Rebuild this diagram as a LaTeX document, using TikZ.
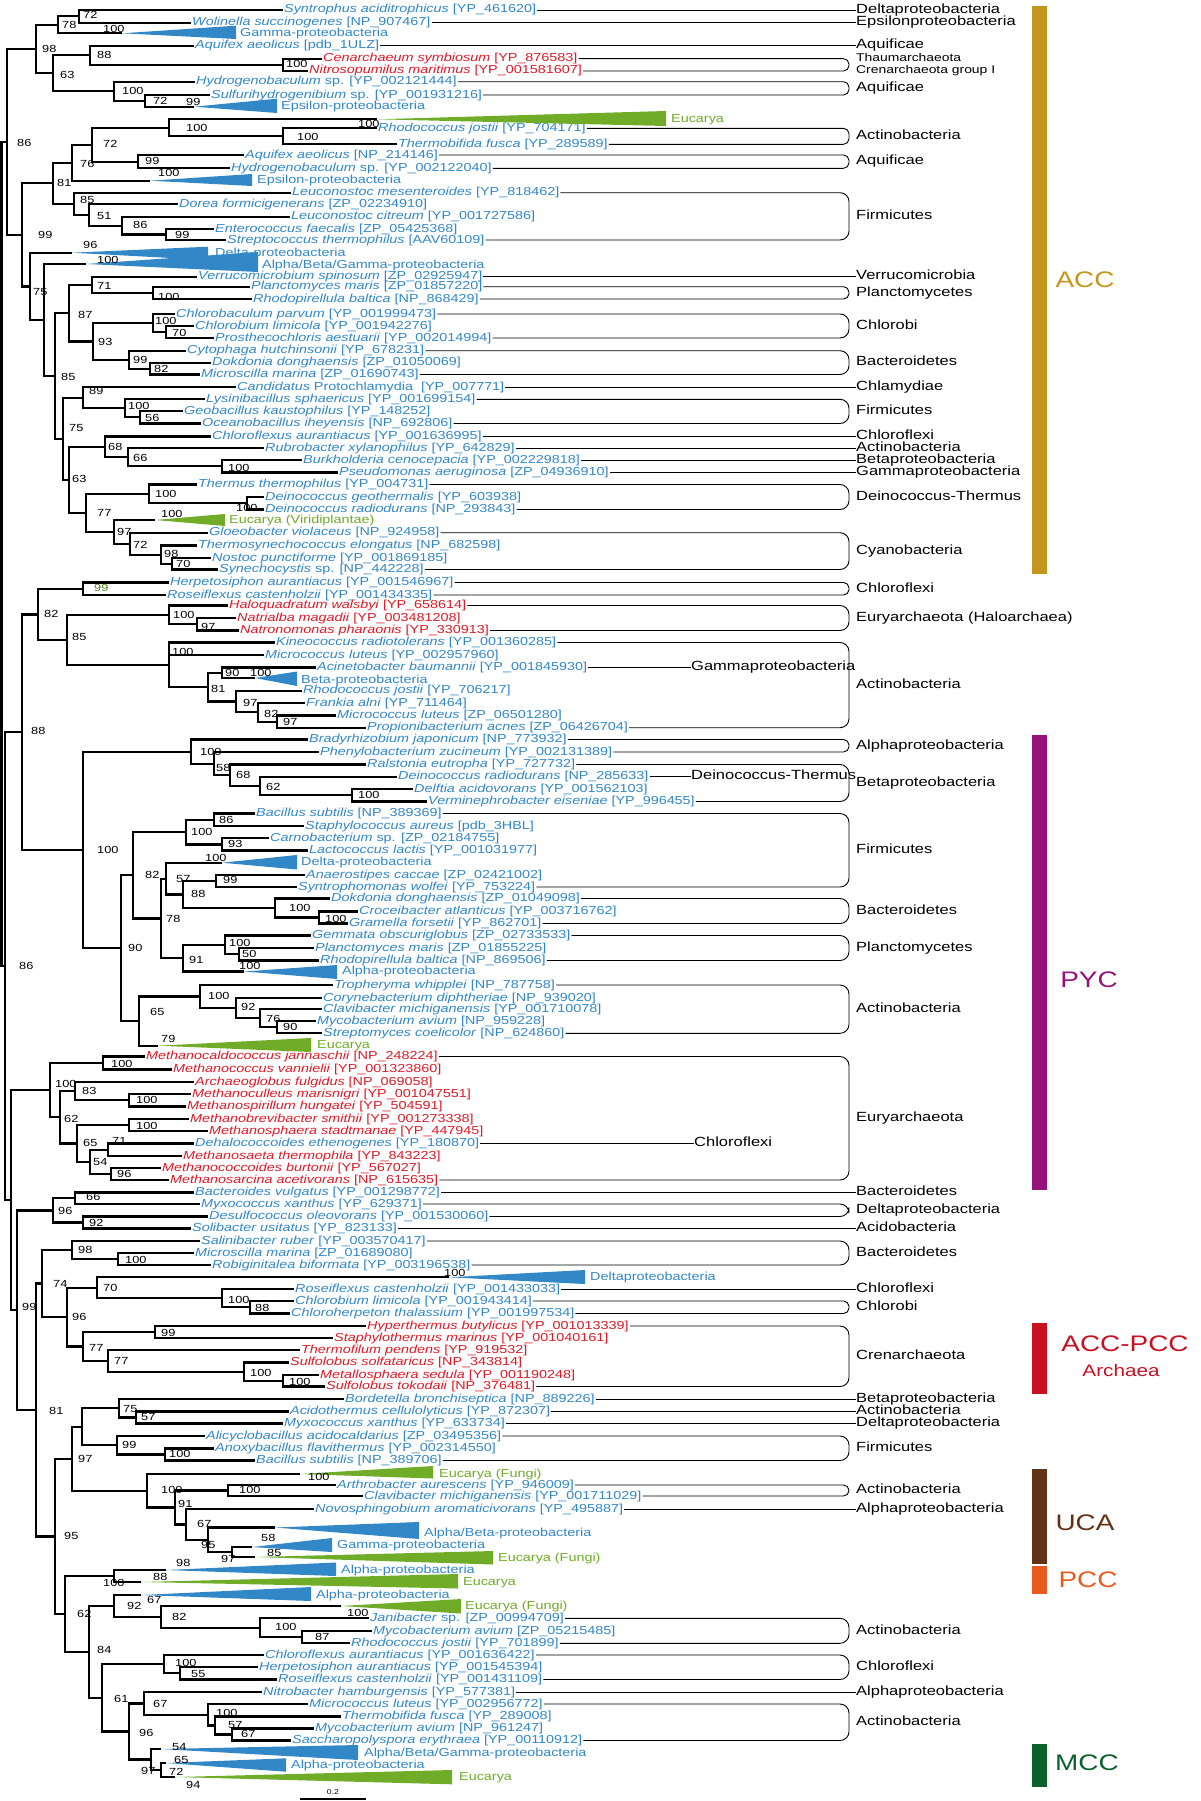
\documentclass[tikz,border=0pt]{standalone}
\usepackage{fontspec}
\setmainfont{Liberation Sans}[FakeStretch=1.24]
\usetikzlibrary{calc}
\definecolor{taxblue}{RGB}{50,135,198}
\definecolor{taxred}{RGB}{222,26,40}
\definecolor{taxgreen}{RGB}{112,172,40}
\definecolor{bootgreen}{RGB}{84,130,30}
\definecolor{accgold}{RGB}{196,150,28}
\definecolor{pycpurple}{RGB}{148,18,122}
\definecolor{acpred}{RGB}{200,16,32}
\definecolor{ucabrown}{RGB}{98,50,22}
\definecolor{pccorange}{RGB}{232,90,30}
\definecolor{mccgreen}{RGB}{12,96,42}

\tikzset{
  branch/.style={line width=2.2pt},
  taxon/.style={anchor=west, inner sep=1pt, text height=8.5pt, text depth=2.5pt, font=\fontsize{11.6}{12}\selectfont},
  bluetax/.style={taxon, text=taxblue},
  redtax/.style={taxon, text=taxred},
  greentax/.style={taxon, text=taxgreen},
  boot/.style={anchor=west, inner sep=0pt, text height=7.4pt, text depth=0pt, font=\fontsize{10.3}{10}\selectfont},
  group/.style={anchor=west, inner sep=0pt, text height=9pt, text depth=2.5pt, font=\fontsize{13.3}{14}\selectfont},
  guide/.style={line width=0.9pt},
  bigclass/.style={font=\fontsize{22.5}{23}\selectfont, inner sep=0pt},
}

\begin{document}
\begin{tikzpicture}[x=1pt,y=-1pt]
\useasboundingbox (0,0) rectangle (1200,1801);

% taxa, ACC part
\node[bluetax] (syn) at (283,10) {\textit{Syntrophus aciditrophicus} [YP\_461620]};
\node[bluetax] (wol) at (191,22.7) {\textit{Wolinella succinogenes} [NP\_907467]};
\node[bluetax] (aqa) at (194,45.7) {\textit{Aquifex aeolicus} [pdb\_1ULZ]};
\node[redtax] (cen) at (322,58.7) {\textit{Cenarchaeum symbiosum} [YP\_876583]};
\node[redtax] (nit) at (308,71) {\textit{Nitrosopumilus maritimus} [YP\_001581607]};
\node[bluetax] (hyd) at (195,81.7) {\textit{Hydrogenobaculum} sp. [YP\_002121444]};
\node[bluetax] (sul) at (210,95) {\textit{Sulfurihydrogenibium} sp. [YP\_001931216]};
\node[bluetax] (rjo) at (377,128.3) {\textit{Rhodococcus jostii} [YP\_704171]};
\node[bluetax] (tfu) at (397,144.3) {\textit{Thermobifida fusca} [YP\_289589]};
\node[bluetax] (aqb) at (244,155) {\textit{Aquifex aeolicus} [NP\_214146]};
\node[bluetax] (hyb) at (230,168.3) {\textit{Hydrogenobaculum} sp. [YP\_002122040]};
\node[bluetax] (lme) at (291,192.7) {\textit{Leuconostoc mesenteroides} [YP\_818462]};
\node[bluetax] (dfo) at (178,204) {\textit{Dorea formicigenerans} [ZP\_02234910]};
\node[bluetax] (lci) at (290,216.7) {\textit{Leuconostoc citreum} [YP\_001727586]};
\node[bluetax] (efa) at (214,229) {\textit{Enterococcus faecalis} [ZP\_05425368]};
\node[bluetax] (sth) at (226,240) {\textit{Streptococcus thermophilus} [AAV60109]};
\node[bluetax] (vsp) at (197,276.7) {\textit{Verrucomicrobium spinosum} [ZP\_02925947]};
\node[bluetax] (pma) at (250,286.7) {\textit{Planctomyces maris} [ZP\_01857220]};
\node[bluetax] (rba) at (252,299) {\textit{Rhodopirellula baltica} [NP\_868429]};
\node[bluetax] (cpa) at (175,314) {\textit{Chlorobaculum parvum} [YP\_001999473]};
\node[bluetax] (cli) at (194,326) {\textit{Chlorobium limicola} [YP\_001942276]};
\node[bluetax] (pae) at (214,338) {\textit{Prosthecochloris aestuarii} [YP\_002014994]};
\node[bluetax] (chu) at (186,350.7) {\textit{Cytophaga hutchinsonii} [YP\_678231]};
\node[bluetax] (ddo) at (211,362.7) {\textit{Dokdonia donghaensis} [ZP\_01050069]};
\node[bluetax] (mma) at (200,374.5) {\textit{Microscilla marina} [ZP\_01690743]};
\node[bluetax] (cpr) at (236,387.3) {\textit{Candidatus} Protochlamydia\ \ [YP\_007771]};
\node[bluetax] (lsp) at (205,399.3) {\textit{Lysinibacillus sphaericus} [YP\_001699154]};
\node[bluetax] (gka) at (183,411) {\textit{Geobacillus kaustophilus} [YP\_148252]};
\node[bluetax] (oih) at (201,423.5) {\textit{Oceanobacillus iheyensis} [NP\_692806]};
\node[bluetax] (cau) at (211,436.5) {\textit{Chloroflexus aurantiacus} [YP\_001636995]};
\node[bluetax] (rxy) at (264,448) {\textit{Rubrobacter xylanophilus} [YP\_642829]};
\node[bluetax] (bce) at (302,460) {\textit{Burkholderia cenocepacia} [YP\_002229818]};
\node[bluetax] (pau) at (338,472.5) {\textit{Pseudomonas aeruginosa} [ZP\_04936910]};
\node[bluetax] (tth) at (197,484.5) {\textit{Thermus thermophilus} [YP\_004731]};
\node[bluetax] (dge) at (264,497) {\textit{Deinococcus geothermalis} [YP\_603938]};
\node[bluetax] (dra) at (264,509.5) {\textit{Deinococcus radiodurans} [NP\_293843]};
\node[bluetax] (gvi) at (208,532.7) {\textit{Gloeobacter violaceus} [NP\_924958]};
\node[bluetax] (tel) at (197,545.5) {\textit{Thermosynechococcus elongatus} [NP\_682598]};
\node[bluetax] (npu) at (211,558) {\textit{Nostoc punctiforme} [YP\_001869185]};
\node[bluetax] (ssp) at (218,569.5) {\textit{Synechocystis} sp. [NP\_442228]};

% taxa, PYC part
\node[bluetax] (hau) at (169,582.5) {\textit{Herpetosiphon aurantiacus} [YP\_001546967]};
\node[bluetax] (rca) at (166,595) {\textit{Roseiflexus castenholzii} [YP\_001434335]};
\node[redtax] (hwa) at (228,605.5) {\textit{Haloquadratum walsbyi} [YP\_658614]};
\node[redtax] (nma) at (236,618) {\textit{Natrialba magadii} [YP\_003481208]};
\node[redtax] (nph) at (239,630.5) {\textit{Natronomonas pharaonis} [YP\_330913]};
\node[bluetax] (kra) at (275,642.5) {\textit{Kineococcus radiotolerans} [YP\_001360285]};
\node[bluetax] (mlu) at (264,655) {\textit{Micrococcus luteus} [YP\_002957960]};
\node[bluetax] (aba) at (316,667.5) {\textit{Acinetobacter baumannii} [YP\_001845930]};
\node[bluetax] (rjb) at (302,690.7) {\textit{Rhodococcus jostii} [YP\_706217]};
\node[bluetax] (fal) at (305,703) {\textit{Frankia alni} [YP\_711464]};
\node[bluetax] (mlb) at (336,715.5) {\textit{Micrococcus luteus} [ZP\_06501280]};
\node[bluetax] (pac) at (366,727.7) {\textit{Propionibacterium acnes} [ZP\_06426704]};
\node[bluetax] (bja) at (308,739.5) {\textit{Bradyrhizobium japonicum} [NP\_773932]};
\node[bluetax] (pzu) at (319,752) {\textit{Phenylobacterium zucineum} [YP\_002131389]};
\node[bluetax] (reu) at (366,764.5) {\textit{Ralstonia eutropha} [YP\_727732]};
\node[bluetax] (drb) at (397,776.7) {\textit{Deinococcus radiodurans} [NP\_285633]};
\node[bluetax] (dac) at (413,789) {\textit{Delftia acidovorans} [YP\_001562103]};
\node[bluetax] (vei) at (427,801.5) {\textit{Verminephrobacter eiseniae} [YP\_996455]};
\node[bluetax] (bsu) at (255,813.5) {\textit{Bacillus subtilis} [NP\_389369]};
\node[bluetax] (sau) at (304,826) {\textit{Staphylococcus aureus} [pdb\_3HBL]};
\node[bluetax] (csp) at (269,838.3) {\textit{Carnobacterium} sp. [ZP\_02184755]};
\node[bluetax] (lla) at (308,850.5) {\textit{Lactococcus lactis} [YP\_001031977]};
\node[bluetax] (aca) at (305,875) {\textit{Anaerostipes caccae} [ZP\_02421002]};
\node[bluetax] (swo) at (297,887) {\textit{Syntrophomonas wolfei} [YP\_753224]};
\node[bluetax] (ddb) at (330,898.5) {\textit{Dokdonia donghaensis} [ZP\_01049098]};
\node[bluetax] (cat) at (358,911.5) {\textit{Croceibacter atlanticus} [YP\_003716762]};
\node[bluetax] (gfo) at (348,923.5) {\textit{Gramella forsetii} [YP\_862701]};
\node[bluetax] (gob) at (311,935.5) {\textit{Gemmata obscuriglobus} [ZP\_02733533]};
\node[bluetax] (pmb) at (314,948) {\textit{Planctomyces maris} [ZP\_01855225]};
\node[bluetax] (rbb) at (319,960.5) {\textit{Rhodopirellula baltica} [NP\_869506]};
\node[bluetax] (twh) at (333,985) {\textit{Tropheryma whipplei} [NP\_787758]};
\node[bluetax] (cdi) at (322,998) {\textit{Corynebacterium diphtheriae} [NP\_939020]};
\node[bluetax] (cmi) at (322,1009) {\textit{Clavibacter michiganensis} [YP\_001710078]};
\node[bluetax] (mav) at (316,1021) {\textit{Mycobacterium avium} [NP\_959228]};
\node[bluetax] (sco) at (322,1033.3) {\textit{Streptomyces coelicolor} [NP\_624860]};
\node[redtax] (mja) at (145,1056.5) {\textit{Methanocaldococcus jannaschii} [NP\_248224]};
\node[redtax] (mva) at (172,1069.5) {\textit{Methanococcus vannielii} [YP\_001323860]};
\node[redtax] (afu) at (194,1082) {\textit{Archaeoglobus fulgidus} [NP\_069058]};
\node[redtax] (mmr) at (191,1094) {\textit{Methanoculleus marisnigri} [YP\_001047551]};
\node[redtax] (mhu) at (186,1106.5) {\textit{Methanospirillum hungatei} [YP\_504591]};
\node[redtax] (msm) at (189,1119) {\textit{Methanobrevibacter smithii} [YP\_001273338]};
\node[redtax] (mst) at (208,1131) {\textit{Methanosphaera stadtmanae} [YP\_447945]};
\node[bluetax] (det) at (194,1143.5) {\textit{Dehalococcoides ethenogenes} [YP\_180870]};
\node[redtax] (mth) at (182,1156) {\textit{Methanosaeta thermophila} [YP\_843223]};
\node[redtax] (mbu) at (161,1168) {\textit{Methanococcoides burtonii} [YP\_567027]};
\node[redtax] (mac) at (169,1180) {\textit{Methanosarcina acetivorans} [NP\_615635]};

% taxa, lower part
\node[bluetax] (bvu) at (194,1192.5) {\textit{Bacteroides vulgatus} [YP\_001298772]};
\node[bluetax] (mxa) at (200,1204) {\textit{Myxococcus xanthus} [YP\_629371]};
\node[bluetax] (dol) at (208,1216.5) {\textit{Desulfococcus oleovorans} [YP\_001530060]};
\node[bluetax] (sus) at (191,1228.5) {\textit{Solibacter usitatus} [YP\_823133]};
\node[bluetax] (sru) at (200,1241) {\textit{Salinibacter ruber} [YP\_003570417]};
\node[bluetax] (mmb) at (194,1253) {\textit{Microscilla marina} [ZP\_01689080]};
\node[bluetax] (rbi) at (211,1265) {\textit{Robiginitalea biformata} [YP\_003196538]};
\node[bluetax] (rcb) at (294,1289) {\textit{Roseiflexus castenholzii} [YP\_001433033]};
\node[bluetax] (clb) at (294,1301) {\textit{Chlorobium limicola} [YP\_001943414]};
\node[bluetax] (cth) at (290,1313.5) {\textit{Chloroherpeton thalassium} [YP\_001997534]};
\node[redtax] (hbu) at (366,1326) {\textit{Hyperthermus butylicus} [YP\_001013339]};
\node[redtax] (sma) at (333,1338) {\textit{Staphylothermus marinus} [YP\_001040161]};
\node[redtax] (tpe) at (300,1350) {\textit{Thermofilum pendens} [YP\_919532]};
\node[redtax] (sso) at (289,1362.5) {\textit{Sulfolobus solfataricus} [NP\_343814]};
\node[redtax] (mse) at (319,1375) {\textit{Metallosphaera sedula} [YP\_001190248]};
\node[redtax] (sto) at (325,1386.5) {\textit{Sulfolobus tokodaii} [NP\_376481]};
\node[bluetax] (bbr) at (344,1399) {\textit{Bordetella bronchiseptica} [NP\_889226]};
\node[bluetax] (ace) at (289,1411.5) {\textit{Acidothermus cellulolyticus} [YP\_872307]};
\node[bluetax] (mxb) at (283,1423.5) {\textit{Myxococcus xanthus} [YP\_633734]};
\node[bluetax] (aac) at (205,1436) {\textit{Alicyclobacillus acidocaldarius} [ZP\_03495356]};
\node[bluetax] (afl) at (214,1448.5) {\textit{Anoxybacillus flavithermus} [YP\_002314550]};
\node[bluetax] (bsb) at (255,1460.5) {\textit{Bacillus subtilis} [NP\_389706]};
\node[bluetax] (aau) at (336,1485) {\textit{Arthrobacter aurescens} [YP\_946009]};
\node[bluetax] (cmb) at (363,1496) {\textit{Clavibacter michiganensis} [YP\_001711029]};
\node[bluetax] (nar) at (314,1509) {\textit{Novosphingobium aromaticivorans} [YP\_495887]};
\node[bluetax] (jan) at (369,1618.3) {\textit{Janibacter} sp. [ZP\_00994709]};
\node[bluetax] (mvb) at (372,1631) {\textit{Mycobacterium avium} [ZP\_05215485]};
\node[bluetax] (rjc) at (350,1643.3) {\textit{Rhodococcus jostii} [YP\_701899]};
\node[bluetax] (cab) at (264,1655) {\textit{Chloroflexus aurantiacus} [YP\_001636422]};
\node[bluetax] (hab) at (258,1667) {\textit{Herpetosiphon aurantiacus} [YP\_001545394]};
\node[bluetax] (rcc) at (277,1679.5) {\textit{Roseiflexus castenholzii} [YP\_001431109]};
\node[bluetax] (nha) at (262,1692) {\textit{Nitrobacter hamburgensis} [YP\_577381]};
\node[bluetax] (mlc) at (308,1704) {\textit{Micrococcus luteus} [YP\_002956772]};
\node[bluetax] (tfb) at (341,1716.5) {\textit{Thermobifida fusca} [YP\_289008]};
\node[bluetax] (mvc) at (314,1728.5) {\textit{Mycobacterium avium} [NP\_961247]};
\node[bluetax] (ser) at (291,1740.5) {\textit{Saccharopolyspora erythraea} [YP\_00110912]};

% collapsed clades
\coordinate (gamA) at (122,33.3);
\fill[taxblue] (gamA) -- (236,25.7) -- (236,39) -- cycle;
\node[bluetax] (gamT) at (239,33.3) {Gamma-proteobacteria};
\coordinate (epsA) at (194,106.7);
\fill[taxblue] (epsA) -- (277,98.7) -- (277,113) -- cycle;
\node[bluetax] (epsT) at (280,106.7) {Epsilon-proteobacteria};
\coordinate (eucA) at (377,119.3);
\fill[taxgreen] (eucA) -- (666,111) -- (666,126) -- cycle;
\node[greentax] (eucT) at (670,119.3) {Eucarya};
\coordinate (epbA) at (150,180.7);
\fill[taxblue] (epbA) -- (252,174) -- (252,186) -- cycle;
\node[bluetax] (epbT) at (256,180.7) {Epsilon-proteobacteria};
\coordinate (abgA) at (86,264);
\fill[taxblue] (abgA) -- (258,252) -- (258,272) -- cycle;
\node[bluetax] (abgT) at (261,265.5) {Alpha/Beta/Gamma-proteobacteria};
\coordinate (delA) at (72,252.7);
\fill[taxblue] (delA) -- (208,246.7) -- (208,260) -- cycle;
\node[bluetax] (delT) at (214,253.3) {Delta-proteobacteria};
\coordinate (virA) at (155,520);
\fill[taxgreen] (virA) -- (225,514) -- (225,526) -- cycle;
\node[greentax] (virT) at (228,520) {Eucarya (Viridiplantae)};
\coordinate (betA) at (255,678);
\fill[taxblue] (betA) -- (297,671.5) -- (297,686) -- cycle;
\node[bluetax] (betT) at (300,680) {Beta-proteobacteria};
\coordinate (dlbA) at (222,862.7);
\fill[taxblue] (dlbA) -- (297,855) -- (297,869.5) -- cycle;
\node[bluetax] (dlbT) at (300,862.7) {Delta-proteobacteria};
\coordinate (alaA) at (244,971.5);
\fill[taxblue] (alaA) -- (337,965) -- (337,979) -- cycle;
\node[bluetax] (alaT) at (341,971.7) {Alpha-proteobacteria};
\coordinate (eubA) at (158,1045.7);
\fill[taxgreen] (eubA) -- (311,1038) -- (311,1052) -- cycle;
\node[greentax] (eubT) at (316,1045.7) {Eucarya};
\coordinate (dlcA) at (449,1277.3);
\fill[taxblue] (dlcA) -- (585,1270) -- (585,1284) -- cycle;
\node[bluetax] (dlcT) at (589,1277.3) {Deltaproteobacteria};
\coordinate (fuaA) at (300,1474);
\fill[taxgreen] (fuaA) -- (433,1466) -- (433,1478.5) -- cycle;
\node[greentax] (fuaT) at (438,1474) {Eucarya (Fungi)};
\coordinate (abaA) at (275,1527.5);
\fill[taxblue] (abaA) -- (419,1522) -- (419,1539) -- cycle;
\node[bluetax] (abaT) at (423,1533.3) {Alpha/Beta-proteobacteria};
\coordinate (gmbA) at (252,1547);
\fill[taxblue] (gmbA) -- (332,1538) -- (332,1552) -- cycle;
\node[bluetax] (gmbT) at (336,1545.7) {Gamma-proteobacteria};
\coordinate (fubA) at (255,1557);
\fill[taxgreen] (fubA) -- (493,1551) -- (493,1564.5) -- cycle;
\node[greentax] (fubT) at (497,1558.3) {Eucarya (Fungi)};
\coordinate (albA) at (166,1570);
\fill[taxblue] (albA) -- (336,1562.5) -- (336,1576) -- cycle;
\node[bluetax] (albT) at (340,1570) {Alpha-proteobacteria};
\coordinate (eccA) at (141,1582);
\fill[taxgreen] (eccA) -- (458,1574) -- (458,1588.5) -- cycle;
\node[greentax] (eccT) at (462,1582.3) {Eucarya};
\coordinate (alcA) at (141,1595);
\fill[taxblue] (alcA) -- (311,1587) -- (311,1601) -- cycle;
\node[bluetax] (alcT) at (315,1595) {Alpha-proteobacteria};
\coordinate (fucA) at (341,1606);
\fill[taxgreen] (fucA) -- (461,1599) -- (461,1613.5) -- cycle;
\node[greentax] (fucT) at (464,1606.7) {Eucarya (Fungi)};
\coordinate (abcA) at (161,1749);
\fill[taxblue] (abcA) -- (358,1745) -- (358,1760) -- cycle;
\node[bluetax] (abcT) at (363,1753.3) {Alpha/Beta/Gamma-proteobacteria};
\coordinate (aldA) at (166,1763);
\fill[taxblue] (aldA) -- (286,1758.3) -- (286,1771.7) -- cycle;
\node[bluetax] (aldT) at (290,1765) {Alpha-proteobacteria};
\coordinate (eddA) at (175,1777);
\fill[taxgreen] (eddA) -- (452,1770) -- (452,1784.3) -- cycle;
\node[greentax] (eddT) at (458,1777.7) {Eucarya};

% internal nodes
\coordinate (n72a) at (79,16.4);
\coordinate (n78) at (58,24.9);
\coordinate (n100c) at (283,64.9);
\coordinate (n88a) at (90,55.3);
\coordinate (n72b) at (145,100.9);
\coordinate (n100h) at (114,91.3);
\coordinate (n63a) at (53,73.3);
\coordinate (n98) at (36,49.1);
\coordinate (n100r) at (283,136.3);
\coordinate (n100e) at (169,127.8);
\coordinate (n99a) at (138,161.7);
\coordinate (n72c) at (92,144.7);
\coordinate (n76) at (72,162.7);
\coordinate (n99b) at (166,234.5);
\coordinate (n86b) at (122,225.6);
\coordinate (n51) at (89,214.8);
\coordinate (n85a) at (74,203.7);
\coordinate (n81a) at (53,183.2);
\coordinate (n100p) at (153,292.8);
\coordinate (n71) at (92,284.8);
\coordinate (n70) at (166,332);
\coordinate (n100cb) at (153,323);
\coordinate (n82a) at (150,368.6);
\coordinate (n99c) at (129,359.7);
\coordinate (n93) at (93,341.4);
\coordinate (n87) at (69,313.1);
\coordinate (n56) at (140,417.3);
\coordinate (n100l) at (125,408.3);
\coordinate (n89) at (83,397.8);
\coordinate (n100b) at (222,466.3);
\coordinate (n66) at (128,457.1);
\coordinate (n68) at (105,446.8);
\coordinate (n100d) at (247,503.3);
\coordinate (n100t) at (149,493.9);
\coordinate (n70n) at (172,563.8);
\coordinate (n98t) at (161,554.6);
\coordinate (n72g) at (130,543.7);
\coordinate (n97) at (114,531.8);
\coordinate (n77) at (86,512.9);
\coordinate (n63b) at (69,479.9);
\coordinate (n75b) at (63,438.8);
\coordinate (n85b) at (55,376);
\coordinate (nY) at (44,320);
\coordinate (n75a) at (30,286.4);
\coordinate (n99) at (22,234.8);
\coordinate (n86t) at (7,142);

\coordinate (n99h) at (83,588.8);
\coordinate (n97n) at (197,624.3);
\coordinate (n100hq) at (169,614.9);
\coordinate (n90) at (222,672.8);
\coordinate (n97m) at (277,721.6);
\coordinate (n82f) at (258,712.3);
\coordinate (n97r) at (236,701.5);
\coordinate (n81r) at (208,687.2);
\coordinate (n100k) at (169,664.9);
\coordinate (n85h) at (67,639.9);
\coordinate (n82) at (38,614.4);
\coordinate (n100dv) at (352,795.3);
\coordinate (n62) at (260,786);
\coordinate (n68r) at (230,775.3);
\coordinate (n58) at (214,763.6);
\coordinate (n100br) at (191,751.6);
\coordinate (n86f) at (214,819.8);
\coordinate (n93c) at (222,844.4);
\coordinate (n100f) at (186,832.1);
\coordinate (n99an) at (216,881);
\coordinate (n100cg) at (319,917.5);
\coordinate (n100do) at (275,908);
\coordinate (n88b) at (183,894.5);
\coordinate (n57) at (166,878.6);
\coordinate (n50) at (239,954.3);
\coordinate (n100g) at (225,944.9);
\coordinate (n91) at (183,958.2);
\coordinate (n78b) at (161,918.4);
\coordinate (n82b) at (133,875.3);
\coordinate (n90m) at (277,1027.2);
\coordinate (n76c) at (260,1018.1);
\coordinate (n92) at (236,1008);
\coordinate (n100tw) at (200,996.5);
\coordinate (n65) at (139,1021.1);
\coordinate (n90f) at (121,948.2);
\coordinate (n100big) at (83,849.9);
\coordinate (n88) at (22,732.2);

\coordinate (n100mj) at (103,1063);
\coordinate (n100mm) at (129,1100.3);
\coordinate (n83) at (75,1091.1);
\coordinate (n100mb) at (129,1125);
\coordinate (n71d) at (108,1149.8);
\coordinate (n96m) at (111,1174);
\coordinate (n54) at (90,1161.9);
\coordinate (n65m) at (77,1143.5);
\coordinate (n62m) at (60,1117.3);
\coordinate (n100e2) at (50,1090.2);

\coordinate (n66b) at (75,1198.3);
\coordinate (n92d) at (83,1222.5);
\coordinate (n96d) at (53,1210.4);
\coordinate (n100ms) at (118,1259);
\coordinate (n98s) at (72,1250);
\coordinate (n88c) at (250,1307.3);
\coordinate (n100rc) at (222,1298.1);
\coordinate (n70r) at (97,1287.7);
\coordinate (n99hb) at (155,1332);
\coordinate (n100sd) at (283,1380.8);
\coordinate (n100ss) at (244,1371.6);
\coordinate (n77c) at (108,1360.8);
\coordinate (n77cr) at (83,1346.4);
\coordinate (n96c) at (67,1317);
\coordinate (n74) at (42,1283.5);
\coordinate (n57a) at (136,1417.5);
\coordinate (n75bo) at (119,1408.3);
\coordinate (n100an) at (165,1454.5);
\coordinate (n99al) at (117,1445.3);
\coordinate (nU) at (82,1426.8);
\coordinate (n100ar) at (228,1490.5);
\coordinate (n97g) at (232,1552);
\coordinate (n95g) at (208,1539.8);
\coordinate (n67) at (186,1524.4);
\coordinate (n91c) at (175,1507.5);
\coordinate (n100eu) at (147,1490.7);
\coordinate (n97b) at (72,1458.8);
\coordinate (n100pa) at (114,1576);
\coordinate (n87j) at (302,1637.2);
\coordinate (n100j) at (260,1627.7);
\coordinate (n82j) at (161,1616.9);
\coordinate (n92a) at (114,1606);
\coordinate (n55) at (180,1673.3);
\coordinate (n100cf) at (164,1664.1);
\coordinate (n67m) at (232,1734.5);
\coordinate (n57m) at (215,1725.5);
\coordinate (n100mc) at (208,1714.8);
\coordinate (n67n) at (144,1703.4);
\coordinate (n72e) at (161,1770);
\coordinate (n97e) at (151,1759.5);
\coordinate (n96e) at (129,1731.5);
\coordinate (n61) at (102,1697.8);
\coordinate (n84) at (89,1651.9);
\coordinate (n62b) at (65,1614);
\coordinate (n95b) at (55,1536.4);
\coordinate (n81) at (36,1410);
\coordinate (n99y) at (17,1310.2);
\coordinate (nPE) at (11,1200.2);
\coordinate (n86m) at (5,966.2);
\coordinate (nroot) at (1.5,554);

% branches
\foreach \p/\c in {n72a/syn.west, n72a/wol.west, n78/n72a, n78/gamA, n100c/cen.west, n100c/nit.west,
  n88a/aqa.west, n88a/n100c, n72b/sul.west, n72b/epsA, n100h/hyd.west, n100h/n72b, n63a/n88a, n63a/n100h,
  n98/n78, n98/n63a, n100r/rjo.west, n100r/tfu.west, n100e/eucA, n100e/n100r, n99a/aqb.west, n99a/hyb.west,
  n72c/n100e, n72c/n99a, n76/n72c, n76/epbA, n99b/efa.west, n99b/sth.west, n86b/lci.west, n86b/n99b,
  n51/dfo.west, n51/n86b, n85a/lme.west, n85a/n51, n81a/n76, n81a/n85a, n100p/pma.west, n100p/rba.west,
  n71/vsp.west, n71/n100p, n70/cli.west, n70/pae.west, n100cb/cpa.west, n100cb/n70, n82a/ddo.west, n82a/mma.west,
  n99c/chu.west, n99c/n82a, n93/n100cb, n93/n99c, n87/n71, n87/n93, n56/gka.west, n56/oih.west,
  n100l/lsp.west, n100l/n56, n89/cpr.west, n89/n100l, n100b/bce.west, n100b/pau.west, n66/rxy.west, n66/n100b,
  n68/cau.west, n68/n66, n100d/dge.west, n100d/dra.west, n100t/tth.west, n100t/n100d, n70n/npu.west, n70n/ssp.west,
  n98t/tel.west, n98t/n70n, n72g/gvi.west, n72g/n98t, n97/virA, n97/n72g, n77/n100t, n77/n97,
  n63b/n68, n63b/n77, n75b/n89, n75b/n63b, n85b/n87, n85b/n75b, nY/abgA, nY/n85b, n75a/delA, n75a/nY,
  n99/n81a, n99/n75a, n86t/n98, n86t/n99}
  \draw[branch] (\p) |- (\c);

\foreach \p/\c in {n99h/hau.west, n99h/rca.west, n97n/nma.west, n97n/nph.west, n100hq/hwa.west, n100hq/n97n,
  n90/aba.west, n90/betA, n97m/mlb.west, n97m/pac.west, n82f/fal.west, n82f/n97m, n97r/rjb.west, n97r/n82f,
  n81r/n90, n81r/n97r, n100k/kra.west, n100k/mlu.west, n100k/n81r, n85h/n100hq, n85h/n100k, n82/n99h, n82/n85h,
  n100dv/dac.west, n100dv/vei.west, n62/drb.west, n62/n100dv, n68r/reu.west, n68r/n62, n58/pzu.west, n58/n68r,
  n100br/bja.west, n100br/n58, n86f/bsu.west, n86f/sau.west, n93c/csp.west, n93c/lla.west, n100f/n86f, n100f/n93c,
  n99an/aca.west, n99an/swo.west, n100cg/cat.west, n100cg/gfo.west, n100do/ddb.west, n100do/n100cg,
  n88b/n99an, n88b/n100do, n57/dlbA, n57/n88b, n50/pmb.west, n50/rbb.west, n100g/gob.west, n100g/n50,
  n91/n100g, n91/alaA, n78b/n57, n78b/n91, n82b/n100f, n82b/n78b, n90m/mav.west, n90m/sco.west,
  n76c/cmi.west, n76c/n90m, n92/cdi.west, n92/n76c, n100tw/twh.west, n100tw/n92, n65/n100tw, n65/eubA,
  n90f/n82b, n90f/n65, n100big/n100br, n100big/n90f, n88/n82, n88/n100big}
  \draw[branch] (\p) |- (\c);

\foreach \p/\c in {n100mj/mja.west, n100mj/mva.west, n100mm/mmr.west, n100mm/mhu.west, n83/afu.west, n83/n100mm,
  n100mb/msm.west, n100mb/mst.west, n71d/det.west, n71d/mth.west, n96m/mbu.west, n96m/mac.west,
  n54/n71d, n54/n96m, n65m/n100mb, n65m/n54, n62m/n83, n62m/n65m, n100e2/n100mj, n100e2/n62m}
  \draw[branch] (\p) |- (\c);

\foreach \p/\c in {n66b/bvu.west, n66b/mxa.west, n92d/dol.west, n92d/sus.west, n96d/n66b, n96d/n92d,
  n100ms/mmb.west, n100ms/rbi.west, n98s/sru.west, n98s/n100ms, n88c/clb.west, n88c/cth.west,
  n100rc/rcb.west, n100rc/n88c, n70r/dlcA, n70r/n100rc, n99hb/hbu.west, n99hb/sma.west,
  n100sd/mse.west, n100sd/sto.west, n100ss/sso.west, n100ss/n100sd, n77c/tpe.west, n77c/n100ss,
  n77cr/n99hb, n77cr/n77c, n96c/n70r, n96c/n77cr, n74/n98s, n74/n96c, n57a/ace.west, n57a/mxb.west,
  n75bo/bbr.west, n75bo/n57a, n100an/afl.west, n100an/bsb.west, n99al/aac.west, n99al/n100an,
  nU/n75bo, nU/n99al, n100ar/aau.west, n100ar/cmb.west, n97g/gmbA, n97g/fubA, n95g/abaA, n95g/n97g,
  n67/nar.west, n67/n95g, n91c/n100ar, n91c/n67, n100eu/fuaA, n100eu/n91c, n97b/nU, n97b/n100eu,
  n100pa/albA, n100pa/eccA, n87j/mvb.west, n87j/rjc.west, n100j/jan.west, n100j/n87j, n82j/fucA, n82j/n100j,
  n92a/alcA, n92a/n82j, n55/hab.west, n55/rcc.west, n100cf/cab.west, n100cf/n55, n67m/mvc.west, n67m/ser.west,
  n57m/tfb.west, n57m/n67m, n100mc/mlc.west, n100mc/n57m, n67n/nha.west, n67n/n100mc, n72e/aldA, n72e/eddA,
  n97e/abcA, n97e/n72e, n96e/n67n, n96e/n97e, n61/n100cf, n61/n96e, n84/n92a, n84/n61, n62b/n100pa, n62b/n84,
  n95b/n97b, n95b/n62b, n81/n74, n81/n95b, n99y/n96d, n99y/n81, nPE/n100e2, nPE/n99y,
  n86m/n88, n86m/nPE, nroot/n86t, nroot/n86m}
  \draw[branch] (\p) |- (\c);

% support values
\foreach \xx/\yy/\v [count=\i] in {83/15/72, 62/25/78, 103/29/100, 286/64/100, 97/55/88, 153/101/72, 186/101.7/99,
  122/91/100, 60/74.5/63, 42/49/98, 297/137/100, 186/128/100, 358/124/100, 145/161/99, 103/144/72, 80/164/76,
  158/172.7/100, 175/235/99, 133/225/86, 97/215.7/51, 80/199.3/85, 57/183/81, 158/296.7/100, 97/286/71,
  172/332.7/70, 155/320.7/100, 154/369/82, 133/359.3/99, 98/341.7/93, 78/315/87, 145/417.3/56, 128/406/100,
  89/390.7/89, 228/467.3/100, 133/457.3/66, 108/447/68, 236/508/100, 155/493.3/100, 176/564/70, 164/553.3/98,
  133/544.3/72, 117/531.7/97, 161/514/100, 97/513/77, 72/479/63, 69/428/75, 61/376.7/85, 97/260/100,
  33/292/75, 83/245/96, 38/235/99, 17/142.7/86}
  \node[boot] (bsa\i) at (\xx,\yy) {\v};
\node[boot, text=bootgreen] (bgr) at (94,587.7) {99};
\foreach \xx/\yy/\v [count=\i] in {201/626.7/97, 173/615/100, 225/673/90, 250/673/100, 283/721.7/97,
  264/713.3/82, 243/702.7/97, 211/688.3/81, 172/651.7/100, 72/636.7/85, 44/613.3/82, 358/795/100,
  266/786.7/62, 236/775/68, 216/767.3/58, 200/751.7/100, 219/820/86, 228/844/93, 191/831.7/100,
  223/880/99, 325/918.3/100, 289/907.3/100, 191/894/88, 176/878.3/57, 205/857.3/100, 242/954/50,
  229/942.7/100, 189/959.3/91, 239/965.7/100, 166/919/78, 145/875/82, 283/1026.7/90, 266/1018.3/76,
  241/1006.7/92, 208/996/100, 150/1011.7/65, 161/1038.3/79, 128/947.7/90, 97/850/100, 31/730.7/88}
  \node[boot] (bsb\i) at (\xx,\yy) {\v};
\foreach \xx/\yy/\v [count=\i] in {111/1063.3/100, 136/1100/100, 82/1091/83, 136/1126/100, 112/1141/71,
  117/1173.3/96, 93/1161.7/54, 83/1142.3/65, 64/1119/62, 55/1083.3/100, 19/965.7/86,
  86/1196.7/66, 89/1222.7/92, 58/1210.7/96, 125/1259.3/100, 78/1249.3/98, 255/1307.3/88,
  228/1299.3/100, 103/1287.3/70, 444/1272.7/100, 161/1332.7/99, 289/1381.7/100, 250/1372.3/100,
  114/1361/77, 89/1347.7/77, 72/1316.7/96, 53/1284/74, 141/1416.7/57, 123/1408.3/75, 169/1454/100,
  122/1445/99, 239/1490/100, 221/1559/97, 261/1538/58, 267/1553/85, 201/1545/95, 197/1524/67,
  178/1504/91, 161/1490/100, 308/1476.7/100, 78/1458.3/97, 103/1583/100, 176/1563/98, 153/1577/88,
  315/1637/87, 275/1627/100, 172/1617/82, 347/1613/100, 127/1606/92, 147/1600/67, 191/1674/55,
  175/1662.3/100, 241/1734/67, 228/1725/57, 216/1712.7/100, 153/1703.3/67, 169/1771.7/72, 174/1760/65,
  186/1785/94, 141/1770.7/97, 172/1746.7/54, 139/1732.7/96, 114/1698.3/61, 97/1650/84, 77/1614/62,
  64/1536/95, 49/1410.7/81, 22/1307/99}
  \node[boot] (bsc\i) at (\xx,\yy) {\v};

% taxonomy on the right
\coordinate (brk) at (849,0);
\foreach \a/\txt [count=\i] in {syn/Deltaproteobacteria, wol/Epsilonproteobacteria, aqa/Aquificae,
  vsp/Verrucomicrobia, cpr/Chlamydiae, cau/Chloroflexi, rxy/Actinobacteria, bce/Betaproteobacteria,
  pau/Gammaproteobacteria, bvu/Bacteroidetes, sus/Acidobacteria, rcb/Chloroflexi, bbr/Betaproteobacteria,
  ace/Actinobacteria, mxb/Deltaproteobacteria, nar/Alphaproteobacteria, nha/Alphaproteobacteria}
  {\node[group, xshift=7pt] (one\i) at (\a.east -| brk) {\txt};
   \draw[guide] (\a.east) -- (one\i.west);}
\foreach \a/\b/\txt [count=\i] in {hyd/sul/Aquificae, rjo/tfu/Actinobacteria, aqb/hyb/Aquificae,
  pma/rba/Planctomycetes, hau/rca/Chloroflexi, bja/pzu/Alphaproteobacteria, clb/cth/Chlorobi, aau/cmb/Actinobacteria}
  {\draw[guide, rounded corners=5.5pt] (\a.east) -- (\a.east -| brk) -- (\b.east -| brk) -- (\b.east);
   \node[group, xshift=7pt] (two\i) at ($(\a.east -| brk)!0.5!(\b.east -| brk)$) {\txt};}
\foreach \a/\b/\txt [count=\i] in {lme/sth/Firmicutes, cpa/pae/Chlorobi, chu/mma/Bacteroidetes, lsp/oih/Firmicutes,
  tth/dra/Deinococcus-Thermus, gvi/ssp/Cyanobacteria, hwa/nph/Euryarchaeota (Haloarchaea),
  kra/pac/Actinobacteria, reu/vei/Betaproteobacteria, bsu/swo/Firmicutes,
  ddb/gfo/Bacteroidetes, gob/rbb/Planctomycetes, twh/sco/Actinobacteria, mja/mac/Euryarchaeota,
  mxa/dol/Deltaproteobacteria, sru/rbi/Bacteroidetes, hbu/sto/Crenarchaeota,
  aac/bsb/Firmicutes, jan/rjc/Actinobacteria, cab/rcc/Chloroflexi, mlc/ser/Actinobacteria}
  {\draw[guide, rounded corners=9pt] (\a.east) -- (\a.east -| brk) -- (\b.east -| brk) -- (\b.east);
   \node[group, xshift=7pt] (three\i) at ($(\a.east -| brk)!0.5!(\b.east -| brk)$) {\txt};}
\draw[guide, rounded corners=5.5pt] (cen.east) -- (cen.east -| brk) -- (nit.east -| brk) -- (nit.east);
\node[group, xshift=7pt, align=left, text height=, text depth=, font=\fontsize{11.2}{11.5}\selectfont] (thau)
  at ($(cen.east -| brk)!0.5!(nit.east -| brk)$) {Thaumarchaeota\\Crenarchaeota group I};
\node[group] (midgam) at (691,667.5) {Gammaproteobacteria};
\draw[guide] (aba.east) -- (midgam.west);
\node[group] (middei) at (691,776.7) {Deinococcus-Thermus};
\draw[guide] (drb.east) -- (middei.west);
\node[group] (midchl) at (694,1143.5) {Chloroflexi};
\draw[guide] (det.east) -- (midchl.west);

% enzyme classes
\fill[accgold] (1032,6) rectangle (1047,574);
\node[bigclass, text=accgold] (acc) at (1085,280) {ACC};
\fill[pycpurple] (1032,735) rectangle (1047,1190);
\node[bigclass, text=pycpurple] (pyc) at (1089,979.5) {PYC};
\fill[acpred] (1032,1323) rectangle (1047,1394);
\node[bigclass, text=acpred] (accpcc) at (1125,1343.6) {ACC-PCC};
\node[text=acpred, inner sep=0pt, font=\fontsize{16.7}{17}\selectfont] (arch) at (1121,1371) {Archaea};
\fill[ucabrown] (1032,1469) rectangle (1047,1564);
\node[bigclass, text=ucabrown] (uca) at (1085,1522.5) {UCA};
\fill[pccorange] (1032,1566) rectangle (1047,1594);
\node[bigclass, text=pccorange] (pcc) at (1088,1580) {PCC};
\fill[mccgreen] (1032,1744) rectangle (1047,1787);
\node[bigclass, text=mccgreen] (mcc) at (1087,1763) {MCC};

% scale
\coordinate (sbl) at (300,1799);
\coordinate (sbr) at (366,1799);
\draw[line width=2.4pt] (sbl) -- (sbr);
\node[inner sep=0pt, font=\fontsize{7}{7}\selectfont] (sbt) at (333,1792) {0.2};
\end{tikzpicture}
\end{document}
